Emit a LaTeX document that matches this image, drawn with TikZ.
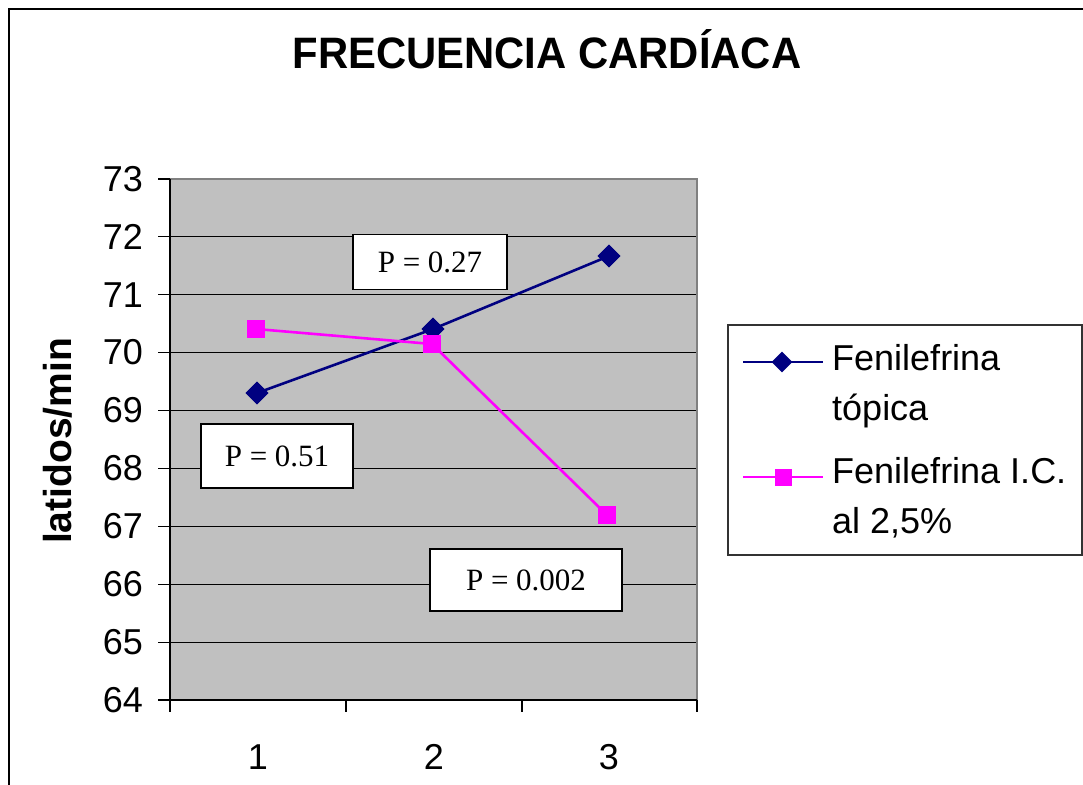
\documentclass[tikz,border=0pt]{standalone}
\usepackage{fontspec}
\setmainfont{Liberation Serif}
\setsansfont{Liberation Sans}
\usetikzlibrary{shapes,arrows,positioning,calc}

\definecolor{plotgray}{HTML}{C0C0C0}
\definecolor{seriesblue}{HTML}{000080}
\definecolor{seriespink}{HTML}{FF00FF}

\begin{document}
\begin{tikzpicture}[
            x=1pt, y=-1pt,
            grid/.style={black, line width=1.2pt},
            tick/.style={black, line width=1.2pt},
            ticklabel/.style={font=\sffamily\fontsize{36}{40}\selectfont, inner sep=0pt},
            pbox/.style={draw, line width=1.8pt, fill=white, inner sep=0pt, font=\fontsize{31}{36}\selectfont},
            bluemark/.style={diamond, fill=seriesblue, minimum size=23pt, inner sep=0pt},
            pinkmark/.style={rectangle, fill=seriespink, minimum size=18pt, inner sep=0pt},
            blueline/.style={seriesblue, line width=2.6pt},
            pinkline/.style={seriespink, line width=2.6pt},
            legtext/.style={font=\sffamily\fontsize{36}{40}\selectfont, inner sep=0pt, anchor=base west}
        ]
            \useasboundingbox (0,0) rectangle (1083,784);
            \clip (0,0) rectangle (1083,784);
            \draw[line width=1.8pt] (9,9) rectangle (1100,800);

            % Plot area
            \fill[plotgray] (170,179) rectangle (697,700);
            \foreach \v in {65,...,72} {
                \draw[grid] (170,{700-(\v-64)*57.9}) -- (697,{700-(\v-64)*57.9});
            }
            \draw[gray, line width=2pt] (170,179) -- (697,179) -- (697,700);
            \draw[black, line width=1.5pt] (170,179) -- (170,700) -- (697,700);
            \foreach \v in {64,...,73} {
                \draw[tick] (158,{700-(\v-64)*57.9}) -- (170,{700-(\v-64)*57.9});
                \node[ticklabel, anchor=east] (y\v) at (143,{700-(\v-64)*57.9}) {\v};
            }
            \foreach \x/\n in {170/0,346/1,522/2,697/3} {
                \draw[tick] (\x,700) -- (\x,712);
            }
            \node[ticklabel] (x1) at (258,757) {1};
            \node[ticklabel] (x2) at (434,757) {2};
            \node[ticklabel] (x3) at (609,757) {3};

            % Titles
            \node[font=\sffamily\bfseries\fontsize{44}{48}\selectfont, inner sep=0pt] (title) at (547,49) {\scalebox{0.95}[1]{FRECUENCIA CARD\'IACA}};
            \node[font=\sffamily\bfseries\fontsize{39}{44}\selectfont, inner sep=0pt, rotate=90] (ytitle) at (58,441) {latidos/min};

            % Series
            \node[bluemark] (b1) at (257,393) {};
            \node[bluemark] (b2) at (433,329) {};
            \node[bluemark] (b3) at (609,256) {};
            \draw[blueline] (b1.center) -- (b2.center) -- (b3.center);
            \node[bluemark] at (b1) {};
            \node[bluemark] at (b2) {};
            \node[bluemark] at (b3) {};

            \node[pinkmark] (p1) at (256,329) {};
            \node[pinkmark] (p2) at (432,344) {};
            \node[pinkmark] (p3) at (607,515) {};
            \draw[pinkline] (p1.center) -- (p2.center) -- (p3.center);
            \node[pinkmark] at (p1) {};
            \node[pinkmark] at (p2) {};
            \node[pinkmark] at (p3) {};

            % P values
            \node[pbox, minimum width=154pt, minimum height=55pt] (p27) at (430,262) {P = 0.27};
            \node[pbox, minimum width=152pt, minimum height=64pt] (p51) at (277,456) {P = 0.51};
            \node[pbox, minimum width=192pt, minimum height=62pt] (p002) at (526,580) {P = 0.002};

            % Legend
            \draw[line width=1.5pt, black!80] (728,325) rectangle (1082,555);
            \coordinate (lb1) at (743,362);
            \coordinate (lb2) at (823,362);
            \draw[blueline] (lb1) -- (lb2);
            \node[bluemark, minimum size=21pt] (lbm) at (782,362) {};
            \coordinate (lp1) at (743,477);
            \coordinate (lp2) at (823,477);
            \draw[pinkline] (lp1) -- (lp2);
            \node[pinkmark, minimum size=17pt] (lpm) at (783,477) {};
            \node[legtext] (leg1a) at (832,370) {Fenilefrina};
            \node[legtext] (leg1b) at (832,420) {t\'opica};
            \node[legtext] (leg2a) at (832,483) {Fenilefrina I.C.};
            \node[legtext] (leg2b) at (832,533) {al 2,5\%};
        \end{tikzpicture}
\end{document}
